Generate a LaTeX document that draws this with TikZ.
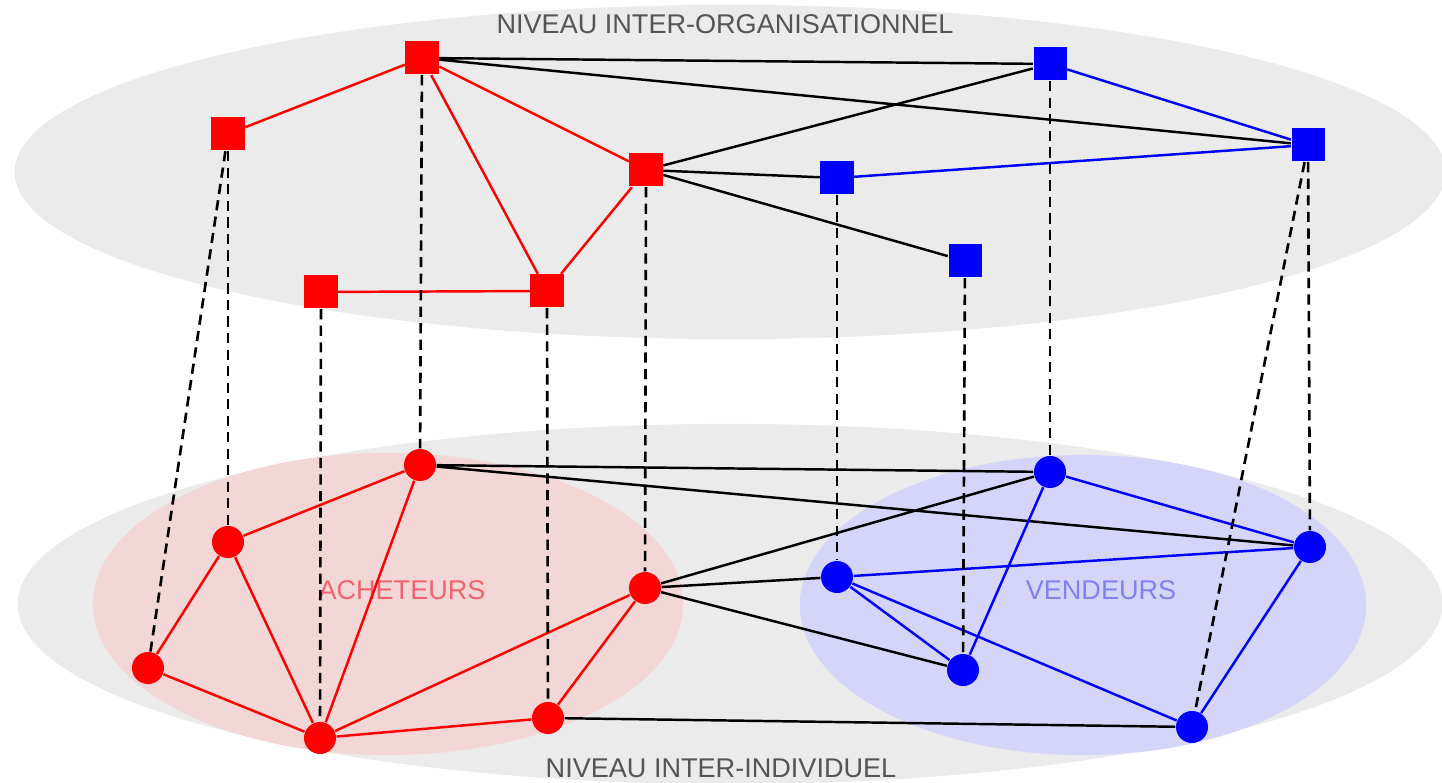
\documentclass[tikz,border=0pt]{standalone}
\usepackage{fontspec}
\setmainfont{Liberation Sans}
\tikzset{>=stealth}

\definecolor{fond}{RGB}{235,235,235}
\definecolor{roseclair}{RGB}{243,214,214}
\definecolor{bleuclair}{RGB}{213,213,250}
\definecolor{gristexte}{RGB}{85,85,85}
\definecolor{rougetexte}{RGB}{240,100,110}
\definecolor{bleutexte}{RGB}{128,128,240}

\begin{document}
\begin{tikzpicture}[x=0.01cm, y=-0.01cm,
    org/.style={rectangle, fill, minimum size=0.33cm, inner sep=0pt},
    ind/.style={circle, fill, minimum size=0.32cm, inner sep=0pt},
    lien/.style={line width=0.7pt},
    proj/.style={black, line width=0.75pt, dash pattern=on 2.9pt off 1.8pt},
    etiq/.style={font=\fontsize{7.7}{9}\selectfont}]
    \useasboundingbox (0,0) rectangle (1442,783);

    % les deux niveaux
    \fill[fond] (730,172) ellipse [x radius=7.15cm, y radius=1.67cm];
    \fill[fond] (730,604) ellipse [x radius=7.12cm, y radius=1.8cm];
    \fill[roseclair] (388,604) ellipse [x radius=2.95cm, y radius=1.51cm];
    \fill[bleuclair] (1083,605) ellipse [x radius=2.83cm, y radius=1.5cm];

    \node[etiq, text=gristexte] (haut) at (725,24) {NIVEAU INTER-ORGANISATIONNEL};
    \node[etiq, text=gristexte] (bas) at (721,768) {NIVEAU INTER-INDIVIDUEL};
    \node[etiq, text=rougetexte] (ach) at (402,590) {ACHETEURS};
    \node[etiq, text=bleutexte] (ven) at (1101,590) {VENDEURS};

    % organisations
    \node[org, red] (r1) at (422,58) {};
    \node[org, red] (r2) at (228,134) {};
    \node[org, red] (r3) at (646,170) {};
    \node[org, red] (r4) at (547,291) {};
    \node[org, red] (r5) at (321,292) {};
    \node[org, blue] (b1) at (1050,64) {};
    \node[org, blue] (b2) at (1308,145) {};
    \node[org, blue] (b3) at (837,178) {};
    \node[org, blue] (b4) at (965,261) {};

    % individus
    \node[ind, red] (a1) at (420,465) {};
    \node[ind, red] (a2) at (228,542) {};
    \node[ind, red] (a3) at (148,668) {};
    \node[ind, red] (a4) at (320,738) {};
    \node[ind, red] (a5) at (548,718) {};
    \node[ind, red] (a6) at (645,588) {};
    \node[ind, blue] (v1) at (1050,472) {};
    \node[ind, blue] (v2) at (1310,547) {};
    \node[ind, blue] (v3) at (837,577) {};
    \node[ind, blue] (v4) at (963,670) {};
    \node[ind, blue] (v5) at (1192,727) {};

    % liens entre organisations
    \draw[lien, red] (r2) -- (r1) (r1) -- (r3) (r1) -- (r4) (r3) -- (r4) (r5) -- (r4);
    \draw[lien, black] (r1) -- (b1) (r1) -- (b2) (r3) -- (b1) (r3) -- (b3) (r3) -- (b4);
    \draw[lien, blue] (b1) -- (b2) (b3) -- (b2);

    % liens entre individus
    \draw[lien, red] (a2) -- (a1) (a1) -- (a4) (a2) -- (a3) (a2) -- (a4)
        (a3) -- (a4) (a4) -- (a6) (a4) -- (a5) (a5) -- (a6);
    \draw[lien, black] (a1) -- (v1) (a1) -- (v2) (a6) -- (v1) (a6) -- (v3)
        (a6) -- (v4) (a5) -- (v5);
    \draw[lien, blue] (v1) -- (v2) (v1) -- (v4) (v3) -- (v2) (v3) -- (v4)
        (v3) -- (v5) (v2) -- (v5);

    % appartenance
    \draw[proj] (r2) -- (a3);
    \draw[proj] (r2) -- (a2);
    \draw[proj] (r5) -- (a4);
    \draw[proj] (r1) -- (a1);
    \draw[proj] (r4) -- (a5);
    \draw[proj] (r3) -- (a6);
    \draw[proj] (b3) -- (v3);
    \draw[proj] (b4) -- (v4);
    \draw[proj] (b1) -- (v1);
    \draw[proj] (b2) -- (v2);
    \draw[proj] (b2) -- (v5);
\end{tikzpicture}
\end{document}
